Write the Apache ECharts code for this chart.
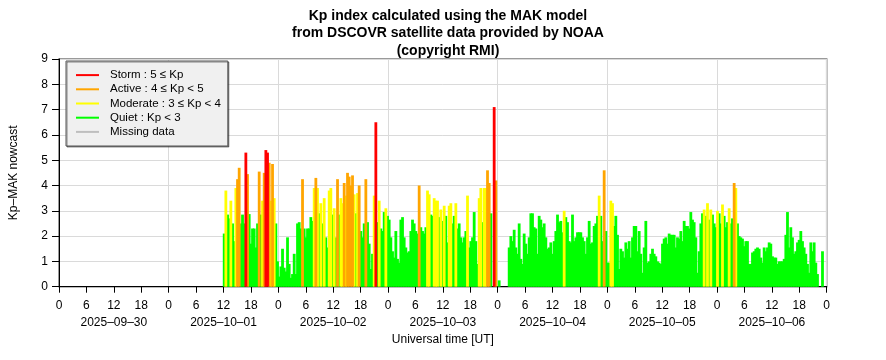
<!DOCTYPE html>
<html><head><meta charset="utf-8">
<script src="https://cdn.jsdelivr.net/npm/echarts@6/dist/echarts.min.js"></script>
<style>html,body{margin:0;padding:0;background:#fff}#c{width:886px;height:360px}</style>
</head><body><div id="c"></div>
<script>
// ---------- data ----------
const titleText = 'Kp index calculated using the MAK model\nfrom DSCOVR satellite data provided by NOAA\n(copyright RMI)';
const yAxisTitle = 'Kp–MAK nowcast';
const xAxisTitle = 'Universal time [UT]';
const dayLabels = ['2025–09–30', '2025–10–01', '2025–10–02', '2025–10–03', '2025–10–04', '2025–10–05', '2025–10–06'];
const classNames = ['Storm : 5 ≤ Kp', 'Active : 4 ≤ Kp < 5', 'Moderate : 3 ≤ Kp < 4', 'Quiet : Kp < 3'];
const classLower = [5, 4, 3, -1];
const classUpper = [99, 5, 4, 3];
const missingName = 'Missing data';
// time of first sample, hours after 2025-09-30 00:00 UT, and sample spacing in hours
const startHour = 36.15;
const stepHour = 0.3647;
const kpPart1 = [2.1, 3.8, 2.85, 2.7, 3.4, 2.5, 1.8, 3.9, 4.25, 4.7,
  2.5, 2.85, 2.5, 5.3, 4.45, 2.87, 1.7, 2.3, 2.3, 1.55,
  2.5, 4.55, 2.85, 3.4, 4.5, 5.4, 5.3, 4.9, 3.4, 4.85,
  3.5, 2.5, 1.0, 0.4, 0.8, 1.5, 0.75, 0.6, 1.95, 0.9,
  0.35, 0.5, 1.3, 0.5, 2.5, 2.55, 2.3, 4.25, 2.3, 1.95,
  2.3, 2.3, 2.75, 2.6, 3.9, 4.3, 3.9, 2.9];
const kpPart2 = [3.3, 2.5, 3.5, 1.95, 1.55, 3.8, 3.9, 2.85, 3.1, 1.95,
  4.25, 2.85, 3.5, 3.3, 4.1, 3.6, 4.5, 4.35, 4.0, 4.4,
  3.65, 2.9, 3.7, 4.0, 2.2, 1.95, 2.5, 4.25, 2.55, 1.7,
  0.7, 1.3, 3.6, 6.5, 2.55, 3.4, 2.3, 2.2, 2.95, 3.1,
  2.8, 2.65, 1.95, 1.4, 1.15, 2.2, 1.1, 0.95, 2.65, 2.75,
  1.95, 1.55, 1.35, 1.4, 2.2, 2.65, 2.5, 2.2, 2.1, 4.0,
  2.35, 2.2, 2.1];
const kpPart3 = [2.35, 3.8, 3.65, 2.85, 2.8, 3.5, 3.4, 3.4, 2.75, 3.05,
  2.6, 3.2, 2.8, 1.75, 3.2, 3.3, 2.5, 2.8, 3.3, 2.3,
  2.5, 1.95, 1.75, 1.95, 2.2, 3.6, 1.55, 1.8, 1.95, 2.95,
  1.8, 0.9, 3.5, 3.9, 2.55, 3.9, 3.9, 4.6, 4.1, 2.9,
  null, 7.1, 4.2, null, 0.25, null, null, null, null, null,
  1.55, 2.0, 1.8, 2.25, 1.55, 1.3, 2.5, 1.1, 0.9, 2.1,
  1.7, 1.3, 1.95];
const kpPart4 = [2.9, 2.9, 2.35, 2.3, 1.3, 2.8, 2.65, 2.35, 2.5, 1.95,
  1.5, 1.55, 1.75, 1.3, 1.8, 2.2, 2.85, 2.55, 2.6, 2.15,
  3.0, 2.75, 2.55, 1.8, 1.75, 2.85, 1.8, 1.95, 2.15, 2.15,
  2.15, 1.95, 1.8, 1.3, 1.95, 2.6, 1.7, 1.75, 2.4, 2.5,
  2.8, 3.6, 2.8, 1.8, 4.6, 2.2, 0.95, 0.95, 3.4, 3.3,
  2.4, 2.8, 2.05, 0.7, 1.5, 1.4, 1.15, 1.75, 1.5, 1.8,
  1.15, 1.95, 2.4];
const kpPart5 = [2.4, 1.4, 2.2, 1.3, 0.55, 1.55, 2.6, 0.95, 1.0, 1.3,
  1.5, 1.3, 1.2, 1.0, 0.95, 0.9, 1.7, 1.9, 1.95, 1.7,
  2.1, 2.05, 2.05, 2.05, 1.55, 1.95, 1.9, 2.2, 1.8, 2.6,
  2.4, 2.4, 2.3, 2.95, 2.65, 2.55, 1.95, 0.55, 1.4, 2.5,
  2.9, 3.05, 2.8, 3.3, 2.65, 3.05, 2.85, 2.5, 2.35, 3.0,
  2.9, 2.5, 3.25, 2.8, 2.35, 2.55, 3.1, 2.5, 2.7, 4.1,
  3.9, 2.5, 2.0];
const kpPart6 = [1.95, 1.9, 1.6, 1.8, 1.8, 0.9, 0.9, 1.35, 1.4, 1.5,
  1.55, 1.5, 1.15, 0.95, 1.55, 1.4, 1.55, 1.75, 1.7, 1.2,
  1.15, 1.15, 0.9, 1.0, 1.0, 1.0, 1.1, 2.05, 2.95, 1.55,
  2.35, 1.95, 1.3, 1.4, 1.75, 1.85, 2.2, 1.8, 1.55, 1.3,
  0.9, 0.55, 1.75, 1.4, 1.75, 0.95, 0.5, null, null, 1.4];

// ---------- chart ----------
const kp = [].concat(kpPart1, kpPart2, kpPart3, kpPart4, kpPart5, kpPart6);
const classColors = ['#ff0000', '#ffa500', '#ffff00', '#00ff00'];
const FONT = 'Liberation Sans';

const series = [];
series.push({
  name: missingName, type: 'bar', xAxisIndex: 0, yAxisIndex: 0, barWidth: 2.8, barGap: '-100%',
  itemStyle: { color: '#bebebe' }, data: [], animation: false
});
// draw quiet first, storm last so the rare high values stay visible
for (let c = classNames.length - 1; c >= 0; c--) {
  series.push({
    name: classNames[c],
    type: 'bar',
    xAxisIndex: 0,
    yAxisIndex: 0,
    barWidth: 2.8,
    barGap: '-100%',
    itemStyle: { color: classColors[c] },
    emphasis: { disabled: true },
    animation: false,
    data: kp.map((v, i) => (v !== null && v >= classLower[c] && v < classUpper[c]) ? [startHour + i * stepHour, v] : null)
            .filter(d => d !== null)
  });
}

const chart = echarts.init(document.getElementById('c'), null, { renderer: 'canvas' });
chart.setOption({
  animation: false,
  backgroundColor: '#ffffff',
  title: {
    text: titleText,
    left: 443, textAlign: 'center', top: 2,
    textStyle: { fontFamily: FONT, fontSize: 14, fontWeight: 'bold', lineHeight: 17.5, color: '#000' }
  },
  legend: {
    orient: 'vertical',
    left: 66, top: 61,
    padding: [7, 7, 7, 10],
    backgroundColor: '#f0f0f0',
    borderColor: '#555', borderWidth: 1,
    shadowColor: 'rgba(0,0,0,0.45)', shadowOffsetX: 1, shadowOffsetY: 1, shadowBlur: 0,
    itemWidth: 23, itemHeight: 2, itemGap: 0,
    icon: 'rect',
    selectedMode: false,
    textStyle: { fontFamily: FONT, fontSize: 11.5, color: '#000', lineHeight: 14.2, padding: [0, 0, 0, 6] },
    data: classNames.concat([missingName])
  },
  grid: {
    left: 59, right: 59.3, top: 59, bottom: 73.3,
    outerBoundsMode: 'none', containLabel: false,
    show: true, borderColor: '#7a7a7a', borderWidth: 1.5, backgroundColor: 'transparent'
  },
  xAxis: [
    {
      type: 'value', position: 'bottom', min: 0, max: 168, interval: 6,
      axisLine: { show: true, onZero: false, lineStyle: { color: '#000', width: 1 } },
      axisTick: { show: true, length: 6, lineStyle: { color: '#000' } },
      axisLabel: { margin: 13, fontFamily: FONT, fontSize: 12, color: '#000', formatter: v => String(v % 24) },
      splitLine: { show: false }
    },
    {
      type: 'value', position: 'bottom', min: 0, max: 168, interval: 24,
      axisLine: { show: false }, axisTick: { show: false }, axisLabel: { show: false },
      splitLine: { show: true, lineStyle: { color: '#dadada', width: 1 } }, z: 0
    },
    {
      type: 'value', position: 'bottom', min: 0, max: 168, interval: 12,
      axisLine: { show: false }, axisTick: { show: false },
      axisLabel: {
        margin: 30, fontFamily: FONT, fontSize: 12, color: '#000',
        formatter: v => (v % 24 === 12) ? dayLabels[(v - 12) / 24] : ''
      },
      splitLine: { show: false },
      name: xAxisTitle, nameLocation: 'middle', nameGap: 47,
      nameTextStyle: { fontFamily: FONT, fontSize: 12, color: '#000' }
    }
  ],
  yAxis: {
    type: 'value', min: 0, max: 9, interval: 1,
    axisLine: { show: true, lineStyle: { color: '#000', width: 1 } },
    axisTick: { show: true, length: 7, lineStyle: { color: '#000' } },
    axisLabel: { margin: 11, fontFamily: FONT, fontSize: 12, color: '#000' },
    splitLine: { show: true, lineStyle: { color: '#dadada', width: 1 } },
    name: yAxisTitle, nameLocation: 'middle', nameGap: 39, nameRotate: 90,
    nameTextStyle: { fontFamily: FONT, fontSize: 12, color: '#000' }
  },
  series: series
});
</script>
</body></html>
